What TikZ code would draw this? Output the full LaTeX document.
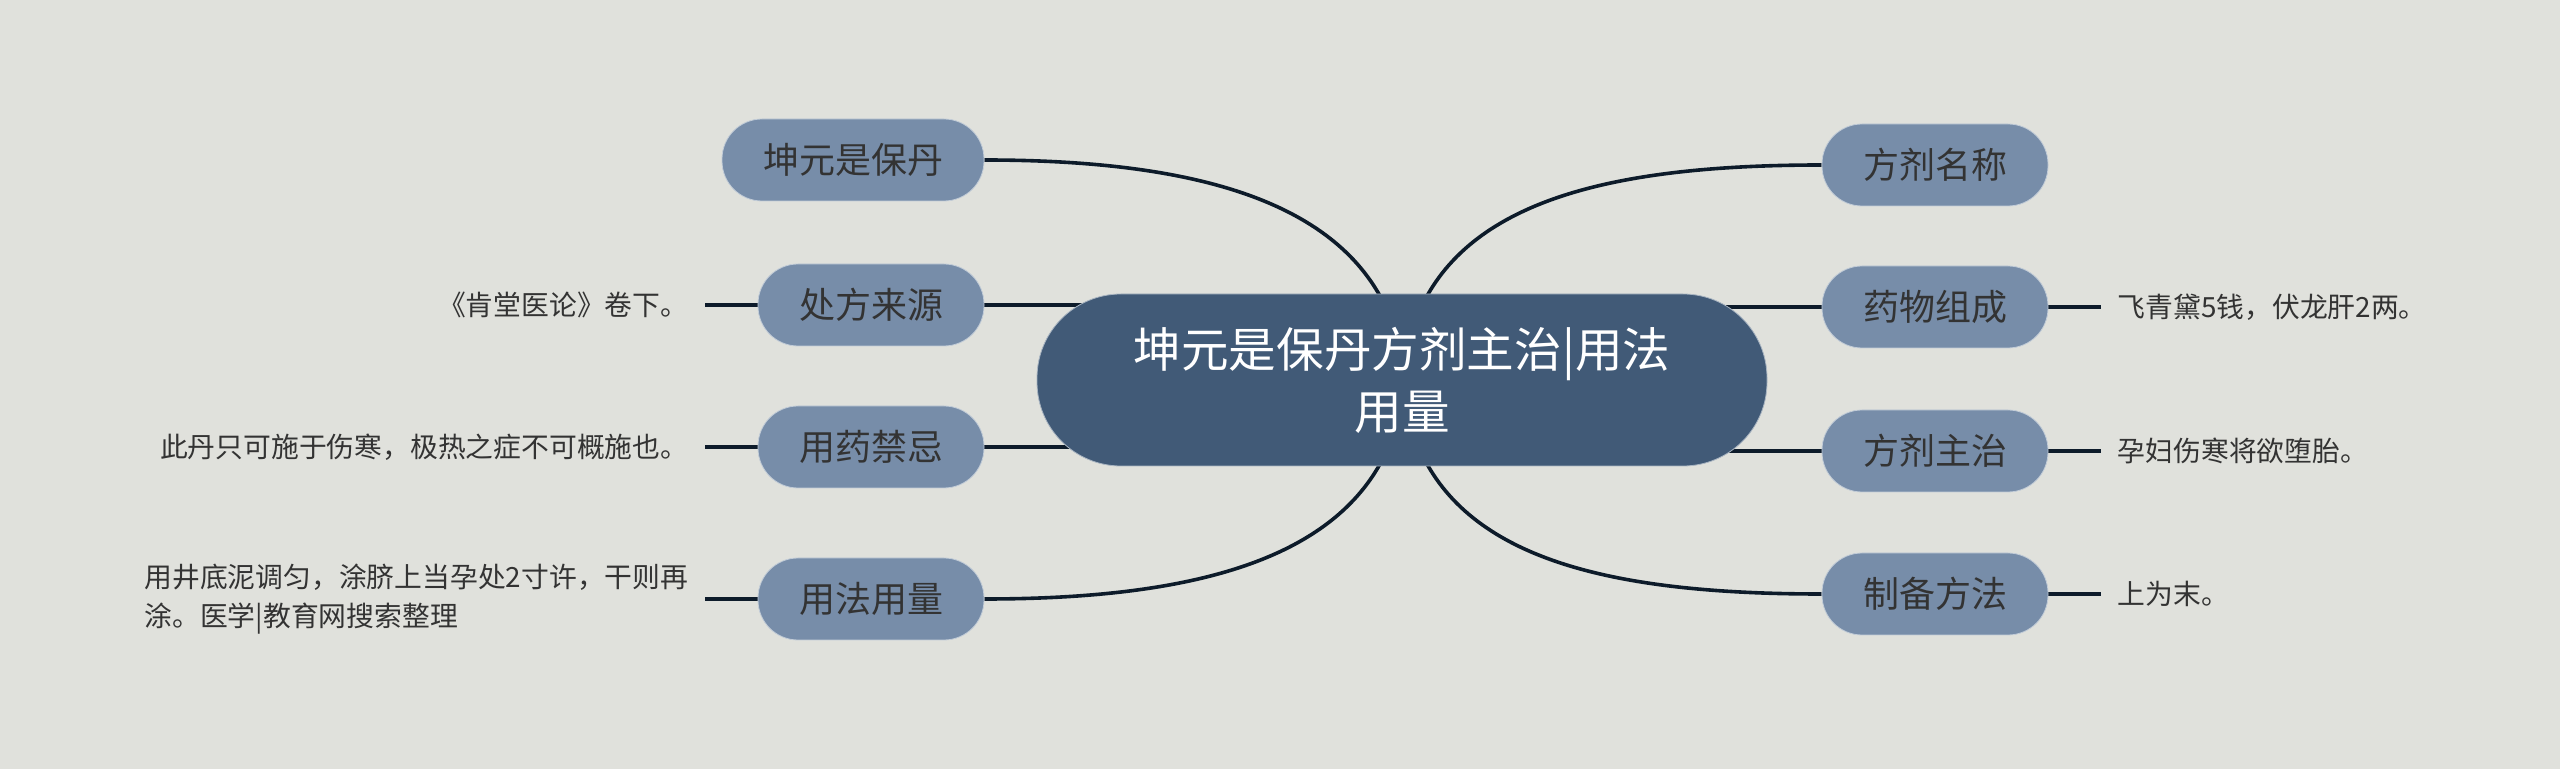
\documentclass[tikz,border=0pt]{standalone}
\usepackage{fontspec}
\setmainfont{Noto Sans CJK SC}
\usetikzlibrary{positioning}
\definecolor{bgcol}{HTML}{E0E1DC}
\definecolor{rootcol}{HTML}{415A77}
\definecolor{subcol}{HTML}{778DA9}
\definecolor{linecol}{HTML}{0D1B2A}
\definecolor{txtcol}{HTML}{333333}
\pgfdeclarelayer{bg}
\pgfsetlayers{bg,main}
\begin{document}
\begin{tikzpicture}[x=0.5pt,y=-0.5pt,
root/.style={fill=rootcol,draw=white!55!rootcol,text=white,align=center,rounded corners=42pt,minimum width=365pt,minimum height=86pt,font=\fontsize{23.8}{31}\selectfont},
sub/.style={fill=subcol,draw=white!55!subcol,text=txtcol,rounded corners=20pt,minimum width=113pt,minimum height=41pt,font=\fontsize{18}{20}\selectfont},
leaf/.style={text=txtcol,inner xsep=8pt,inner ysep=0pt,align=left,font=\fontsize{13.9}{19.5}\selectfont},
link/.style={draw=linecol,line width=1.8pt},
arc/.style={link,out distance=58pt,in distance=100pt}]
\begin{pgfonlayer}{bg}
\fill[bgcol] (0,0) rectangle (2560,769);
\end{pgfonlayer}
\useasboundingbox (0,0) rectangle (2560,769);
\node[root] (root) at (1402,380) {坤元是保丹方剂主治|用法\\用量};
\node[sub,minimum width=131pt] (kun) at (853,160) {坤元是保丹};
\node[sub] (chu) at (871,305) {处方来源};
\node[sub] (jin) at (871,447) {用药禁忌};
\node[sub] (yong) at (871,599) {用法用量};
\node[sub] (ming) at (1935,165) {方剂名称};
\node[sub] (zu) at (1935,307) {药物组成};
\node[sub] (zhi) at (1935,451) {方剂主治};
\node[sub] (zhib) at (1935,594) {制备方法};
\node[leaf,left=26.5pt of chu.west] (chutxt) {《肯堂医论》卷下。};
\node[leaf,left=26.5pt of jin.west] (jintxt) {此丹只可施于伤寒，极热之症不可概施也。};
\node[leaf,left=26.5pt of yong.west] (yongtxt) {用井底泥调匀，涂脐上当孕处2寸许，干则再\\涂。医学|教育网搜索整理};
\node[leaf,right=26.5pt of zu.east] (zutxt) {飞青黛5钱，伏龙肝2两。};
\node[leaf,right=26.5pt of zhi.east] (zhitxt) {孕妇伤寒将欲堕胎。};
\node[leaf,right=26.5pt of zhib.east] (zhibtxt) {上为末。};
\begin{pgfonlayer}{bg}
\draw[arc] ([xshift=-10pt,yshift=-3pt]root.north) to[out=118,in=0] (kun.east);
\draw[arc] ([xshift=11.5pt,yshift=-3pt]root.north) to[out=62,in=180] (ming.west);
\draw[arc] ([xshift=-10pt,yshift=3pt]root.south) to[out=-118,in=0] (yong.east);
\draw[arc] ([xshift=11.5pt,yshift=3pt]root.south) to[out=-62,in=180] (zhib.west);
\draw[link] (chu.east) -- (chu.east -| root.center);\draw[link] (jin.east) -- (jin.east -| root.center);
\draw[link] (zu.west) -- (zu.west -| root.center);\draw[link] (zhi.west) -- (zhi.west -| root.center);
\draw[link] (chu.west) -- (chutxt.east);\draw[link] (jin.west) -- (jintxt.east);\draw[link] (yong.west) -- (yongtxt.east);
\draw[link] (zu.east) -- (zutxt.west);\draw[link] (zhi.east) -- (zhitxt.west);\draw[link] (zhib.east) -- (zhibtxt.west);
\end{pgfonlayer}
\end{tikzpicture}
\end{document}
